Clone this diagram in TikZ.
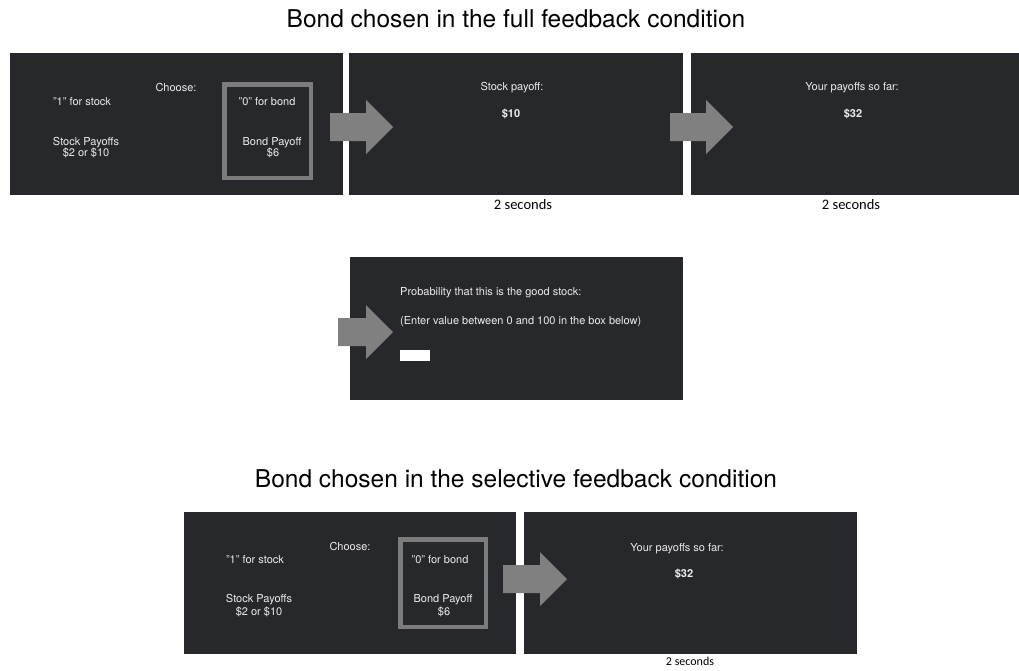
\documentclass[tikz,border=0pt]{standalone}
\usepackage{fontspec}
\setmainfont{TeX Gyre Heros}
\newfontfamily\notefont{Carlito}
\usepackage{tikz}
\usetikzlibrary{positioning, calc}
\definecolor{screenbg}{HTML}{27282C}
\definecolor{screentext}{HTML}{ECECEC}
\definecolor{arrowgray}{HTML}{808080}
\definecolor{boxgray}{HTML}{7C7C7C}

\begin{document}
\begin{tikzpicture}[x=1pt, y=-1pt,
 screen/.style={fill=screenbg, inner sep=0pt, anchor=north west},
 lbl/.style={text=screentext, font=\fontsize{11}{13}\selectfont, inner sep=0pt, text height=7.8pt, text depth=0pt},
 val/.style={lbl, font=\fontsize{11}{13}\selectfont\bfseries},
 bondbox/.style={draw=boxgray, line width=4.5pt, inner sep=0pt},
 heading/.style={font=\fontsize{24.5}{28}\selectfont, anchor=base, inner sep=0pt},
 delay/.style={font=\notefont\fontsize{14.5}{16}\selectfont, inner sep=0pt, text height=9.3pt, text depth=0pt},
 pics/bigarrow/.style={code={
   \fill[arrowgray] (-#1,-14) -- (-27,-14) -- (-27,-27) -- (0,0) -- (-27,27) -- (-27,14) -- (-#1,14) -- cycle;}}]
\useasboundingbox (0,0) rectangle (1019,670);

% full feedback
\node[heading](t1) at (516,27){Bond chosen in the full feedback condition};
\node[screen, minimum width=333pt, minimum height=142pt](p1) at (10,53){};
\node[screen, minimum width=334pt, minimum height=142pt](p2) at (349,53){};
\node[screen, minimum width=328pt, minimum height=142pt](p3) at (691,53){};
\node[screen, minimum width=333pt, minimum height=143pt](p4) at (350,257){};

\node[bondbox, minimum width=86.5pt, minimum height=93.5pt](b1) at (267.5,131){};
\node[lbl](c1) at (176,88){Choose:};
\node[lbl](s1) at (82,102){"1" for stock};
\node[lbl](o1) at (267,102){"0" for bond};
\node[lbl](sp1) at (86,142){Stock Payoffs};
\node[lbl](sv1) at (86,153){\$2 or \$10};
\node[lbl](bp1) at (272,142){Bond Payoff};
\node[lbl](bv1) at (273,153){\$6};

\node[lbl](q2) at (512,87){Stock payoff:};
\node[val](v2) at (511,114){\$10};
\node[lbl](q3) at (852,87){Your payoffs so far:};
\node[val](v3) at (853,114){\$32};
\node[delay](d2) at (523,205){2 seconds};
\node[delay](d3) at (851,205){2 seconds};

\node[lbl, anchor=west](q4) at (400,292){Probability that this is the good stock:};
\node[lbl, anchor=west](e4) at (400,321){(Enter value between 0 and 100 in the box below)};
\node[fill=white, inner sep=0pt, minimum width=30pt, minimum height=11pt, anchor=north west](in4) at (400,350){};

% selective feedback
\node[heading](t2) at (516,487){Bond chosen in the selective feedback condition};
\node[screen, minimum width=332pt, minimum height=142pt](p5) at (184,512){};
\node[screen, minimum width=333pt, minimum height=142pt](p6) at (524,512){};

\node[bondbox, minimum width=85.5pt, minimum height=87.5pt](b5) at (443,583){};
\node[lbl](c5) at (350,547){Choose:};
\node[lbl](s5) at (255,560){"1" for stock};
\node[lbl](o5) at (440,560){"0" for bond};
\node[lbl](sp5) at (259,599){Stock Payoffs};
\node[lbl](sv5) at (259,612){\$2 or \$10};
\node[lbl](bp5) at (443,599){Bond Payoff};
\node[lbl](bv5) at (444,612){\$6};

\node[lbl](q6) at (677,548){Your payoffs so far:};
\node[val](v6) at (684,574){\$32};
\node[delay, font=\notefont\fontsize{12}{14}\selectfont, text height=7.8pt](d6) at (690,662){2 seconds};

\foreach \tip/\len in {{(393,127)}/63,{(733,127)}/63,{(393,332)}/55,{(567,579)}/64}
  {\pic at \tip {bigarrow=\len};}

\end{tikzpicture}
\end{document}
